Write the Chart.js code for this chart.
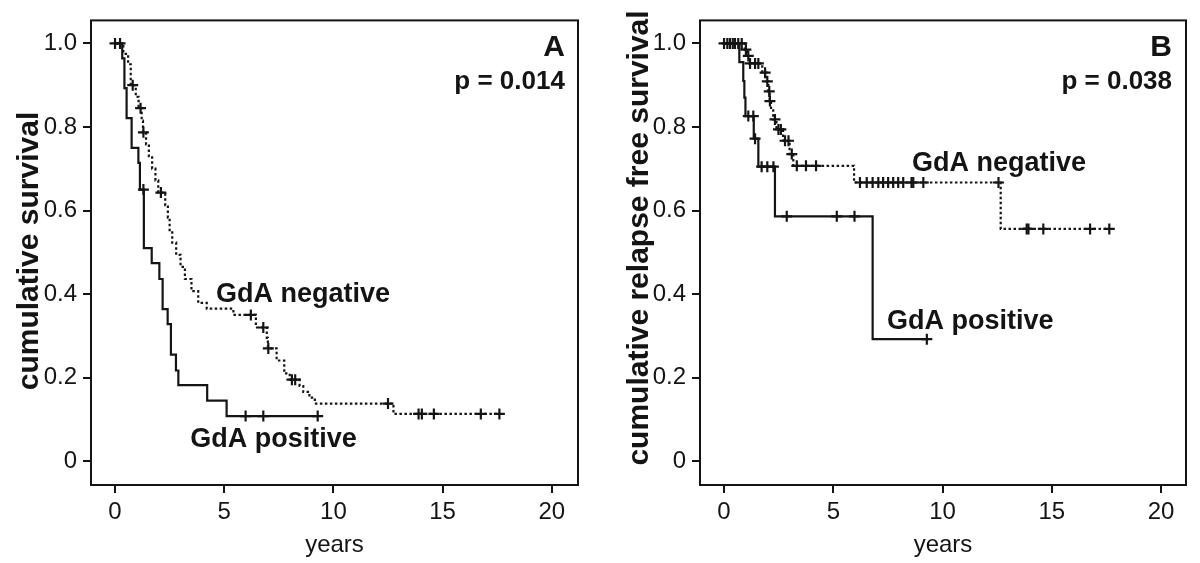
<!DOCTYPE html>
<html><head><meta charset="utf-8">
<script src="https://cdn.jsdelivr.net/npm/chart.js@4.4.1/dist/chart.umd.min.js"></script>
<style>
html,body{margin:0;padding:0;background:#fff;overflow:hidden}
#wrap{position:relative;width:1200px;height:563px;background:#fff}
canvas{position:absolute;top:0}
#cA{left:0}#cB{left:600px}
</style></head>
<body><div id="wrap"><canvas id="cA" width="600" height="563"></canvas><canvas id="cB" width="600" height="563"></canvas></div>
<script>
// ---------- data ----------
const xTicks = [0, 5, 10, 15, 20];
const yTicks = [0, 0.2, 0.4, 0.6, 0.8, 1.0];
const yTickLabels = ['0', '0.2', '0.4', '0.6', '0.8', '1.0'];
const xTitle = 'years';
const yTitleA = 'cumulative survival';
const yTitleB = 'cumulative relapse free survival';
const seriesNames = ['GdA negative', 'GdA positive'];
const panelNames = ['A', 'B'];
const pValues = ['p = 0.014', 'p = 0.038'];

// Panel A – GdA negative (event steps)
const negA_t = [0,0.38,0.6,0.72,0.95,1.08,1.22,1.28,1.42,1.55,1.7,1.85,1.98,2.3,2.42,2.5,2.62,2.8,3.0,3.2,3.5,3.81,4.2,5.42,6.45,6.95,7.0,7.4,7.75,8.0,8.45,8.62,8.9,9.15,12.75,17.6];
const negA_s = [1,0.975,0.95,0.90,0.872,0.845,0.815,0.787,0.758,0.73,0.70,0.672,0.643,0.613,0.583,0.553,0.523,0.494,0.465,0.436,0.407,0.379,0.365,0.35,0.32,0.295,0.27,0.241,0.21,0.195,0.18,0.166,0.152,0.138,0.113,0.113];
const negA_ct = [0.23,0.81,1.17,1.30,2.1,6.22,6.79,7.02,8.1,8.25,12.5,13.9,14.05,14.6,16.75,17.6];
const negA_cs = [1,0.90,0.845,0.787,0.643,0.35,0.32,0.27,0.195,0.195,0.138,0.113,0.113,0.113,0.113,0.113];
// Panel A – GdA positive
const posA_t = [0,0.33,0.43,0.53,0.76,1.07,1.14,1.32,1.68,2.03,2.18,2.41,2.56,2.79,2.90,4.22,5.11,9.28];
const posA_s = [1,0.964,0.893,0.821,0.75,0.714,0.65,0.51,0.474,0.436,0.364,0.328,0.255,0.217,0.182,0.145,0.108,0.108];
const posA_ct = [0,1.3,5.98,6.79,9.28];
const posA_cs = [1,0.65,0.108,0.108,0.108];

// Panel B – GdA negative
const negB_t = [0,0.95,1.05,1.15,1.75,1.95,2.03,2.09,2.15,2.25,2.4,2.7,3.0,3.17,5.95,12.66,17.63];
const negB_s = [1,0.985,0.97,0.952,0.93,0.909,0.885,0.862,0.84,0.818,0.794,0.767,0.735,0.707,0.667,0.556,0.556];
const negB_ct = [0,0.15,0.27,0.4,0.5,0.65,0.81,1.0,1.11,1.19,1.42,1.57,1.88,1.98,2.07,2.1,2.33,2.49,2.6,2.79,2.95,3.1,3.33,3.75,4.21,6.22,6.53,6.8,7.06,7.28,7.51,7.74,7.97,8.2,8.58,8.66,9.12,12.56,13.85,13.93,14.61,16.75,17.63];
const negB_cs = [1,1,1,1,1,1,1,0.985,0.97,0.952,0.952,0.952,0.93,0.909,0.885,0.862,0.818,0.794,0.794,0.767,0.767,0.735,0.707,0.707,0.707,0.667,0.667,0.667,0.667,0.667,0.667,0.667,0.667,0.667,0.667,0.667,0.667,0.667,0.556,0.556,0.556,0.556,0.556];
// Panel B – GdA positive
const posB_t = [0,0.70,0.88,0.93,0.98,1.36,1.57,2.33,6.8,9.28];
const posB_s = [1,0.955,0.91,0.87,0.826,0.772,0.705,0.586,0.292,0.292];
const posB_ct = [1.11,1.34,1.42,1.72,1.98,2.26,2.87,5.16,5.97,9.28];
const posB_cs = [0.826,0.826,0.772,0.705,0.705,0.705,0.586,0.586,0.586,0.292];

// ---------- helpers ----------
const FONT = "'Liberation Sans', Arial, Helvetica, sans-serif";
const INK = '#141414';
const pts = (t, s) => t.map((v, i) => ({x: v, y: s[i]}));

function stepSet(t, s, dashed) {
  return {type: 'line', data: pts(t, s), stepped: true, borderColor: INK, borderWidth: 2.2,
    borderDash: dashed ? [2.5, 2.5] : [], pointRadius: 0, fill: false, order: 2};
}
function censorSet(t, s) {
  return {type: 'scatter', data: pts(t, s), pointStyle: 'cross', pointRadius: 5.5,
    borderColor: INK, backgroundColor: INK, pointBorderWidth: 2.2, borderWidth: 2.2, order: 1};
}

const framePlugin = {
  id: 'frame',
  afterDatasetsDraw(chart, args, opts) {
    const {ctx, chartArea: a, scales} = chart;
    ctx.save();
    ctx.strokeStyle = INK; ctx.lineWidth = 2;
    ctx.strokeRect(a.left, a.top, a.right - a.left, a.bottom - a.top);
    ctx.fillStyle = INK; ctx.textBaseline = 'alphabetic';
    (opts.labels || []).forEach(l => {
      ctx.font = l.font; ctx.textAlign = l.align;
      ctx.fillText(l.text, scales.x.getPixelForValue(l.x), scales.y.getPixelForValue(l.y));
    });
    if (opts.yTitle) {
      const t = opts.yTitle;
      ctx.translate(t.cx, t.cy);
      ctx.rotate(-Math.PI / 2);
      ctx.font = t.font; ctx.textAlign = 'center'; ctx.textBaseline = 'middle';
      ctx.fillText(t.text, 0, 0);
    }
    ctx.restore();
  }
};

function makeChart(id, datasets, yTitle, xmax, yAxisWidth, padRight, labels) {
  return new Chart(document.getElementById(id), {
    data: {datasets},
    plugins: [framePlugin],
    options: {
      responsive: false, animation: false, devicePixelRatio: 1,
      layout: {padding: {top: 17, right: padRight, left: 0, bottom: 0}},
      plugins: {legend: {display: false}, tooltip: {enabled: false}, frame: {labels, yTitle}},
      scales: {
        x: {type: 'linear', min: -1.1, max: xmax,
          afterBuildTicks: s => { s.ticks = xTicks.map(v => ({value: v})); },
          afterFit: s => { s.height = 78; },
          grid: {drawOnChartArea: false, drawTicks: true, tickLength: 8, color: INK, lineWidth: 2},
          border: {display: false},
          ticks: {color: INK, padding: 5, font: {family: FONT, size: 24}, maxRotation: 0,
            callback: v => String(v)},
          title: {display: true, text: xTitle, color: INK, font: {family: FONT, size: 24},
            padding: {top: 0, bottom: 3}}
        },
        y: {type: 'linear', min: -0.057, max: 1.055,
          afterBuildTicks: s => { s.ticks = yTicks.map(v => ({value: v})); },
          afterFit: s => { s.width = yAxisWidth; },
          grid: {drawOnChartArea: false, drawTicks: true, tickLength: 8, color: INK, lineWidth: 2},
          border: {display: false},
          ticks: {color: INK, padding: 6, font: {family: FONT, size: 24},
            callback: v => yTickLabels[yTicks.findIndex(t => Math.abs(t - v) < 1e-6)]},
          title: {display: false}
        }
      }
    }
  });
}

makeChart('cA', [
  stepSet(negA_t, negA_s, true), censorSet(negA_ct, negA_cs),
  stepSet(posA_t, posA_s, false), censorSet(posA_ct, posA_cs)
], {text: yTitleA, cx: 30, cy: 251, font: `bold 30px ${FONT}`}, 21.2, 91, 22, [
  {text: panelNames[0], x: 20.6, y: 0.969, align: 'right', font: `bold 30px ${FONT}`},
  {text: pValues[0], x: 20.6, y: 0.891, align: 'right', font: `bold 26px ${FONT}`},
  {text: seriesNames[0], x: 4.62, y: 0.382, align: 'left', font: `bold 27px ${FONT}`},
  {text: seriesNames[1], x: 3.45, y: 0.035, align: 'left', font: `bold 27px ${FONT}`}
]);

makeChart('cB', [
  stepSet(negB_t, negB_s, true), censorSet(negB_ct, negB_cs),
  stepSet(posB_t, posB_s, false), censorSet(posB_ct, posB_cs)
], {text: yTitleB, cx: 40, cy: 238, font: `bold 30px ${FONT}`}, 21.14, 100, 14, [
  {text: panelNames[1], x: 20.5, y: 0.969, align: 'right', font: `bold 30px ${FONT}`},
  {text: pValues[1], x: 20.5, y: 0.891, align: 'right', font: `bold 26px ${FONT}`},
  {text: seriesNames[0], x: 8.6, y: 0.694, align: 'left', font: `bold 27px ${FONT}`},
  {text: seriesNames[1], x: 7.46, y: 0.316, align: 'left', font: `bold 27px ${FONT}`}
]);
</script></body></html>
